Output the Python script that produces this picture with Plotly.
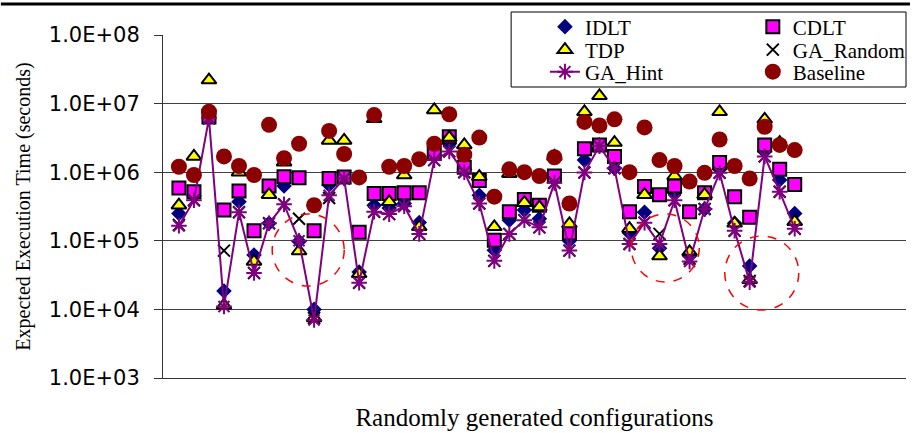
import plotly.graph_objects as go

configs = list(range(1, 43))

idlt = [2.5e5, 4.5e5, 6.3e6, 1.85e4, 3.7e5, 6.2e4, 1.8e5, 6.3e5, 9.8e4, 1.0e4,
        6.5e5, 8.3e5, 3.5e4, 3.3e5, 3.0e5, 3.5e5, 1.85e5, 1.7e6, 2.6e6, 1.1e6,
        4.6e5, 7.3e4, 2.0e5, 2.8e5, 2.1e5, 8.0e5, 1.0e5, 1.5e6, 2.5e6, 1.14e6,
        1.3e5, 2.6e5, 7.8e4, 5.0e5, 6.0e4, 2.9e5, 1.1e6, 1.8e5, 4.3e4, 2.0e6,
        7.7e5, 2.5e5]

cdlt = [5.9e5, 5.2e5, 6.4e6, 2.8e5, 5.3e5, 1.4e5, 6.3e5, 8.6e5, 8.3e5, 1.4e5,
        8.1e5, 8.5e5, 1.33e5, 4.9e5, 4.9e5, 5.0e5, 5.0e5, 1.9e6, 3.3e6, 1.18e6,
        7.6e5, 1.02e5, 2.65e5, 4.0e5, 3.3e5, 8.8e5, 1.3e5, 2.2e6, 2.5e6, 1.7e6,
        2.65e5, 6.2e5, 4.7e5, 6.3e5, 2.65e5, 5.0e5, 1.38e6, 4.4e5, 2.2e5, 2.5e6,
        1.1e6, 6.6e5]

tdp = [3.3e5, 1.7e6, 2.2e7, 1.15e4, 1.0e6, 5.0e4, 4.7e5, 1.4e6, 7.1e4, 7.5e3,
       2.9e6, 2.9e6, 3.3e4, 6.0e6, 3.7e5, 9.1e5, 1.6e5, 8.1e6, 3.2e6, 2.5e6,
       8.6e5, 1.6e5, 9.5e5, 3.6e5, 3.1e5, 1.7e6, 1.76e5, 7.6e6, 1.3e7, 2.7e6,
       1.5e5, 4.7e5, 6.0e4, 8.8e5, 6.9e4, 4.7e5, 7.6e6, 1.8e5, 2.7e4, 5.9e6,
       2.7e6, 1.9e5]

ga_random = [1.7e5, 3.9e5, 6.1e6, 7.2e4, 2.6e5, 3.4e4, 1.8e5, 3.4e5, 2.1e5, 7.5e3,
             4.2e5, 8.1e5, 2.45e4, 2.65e5, 2.45e5, 3.2e5, 1.26e5, 1.5e6, 2.0e6, 1.0e6,
             3.5e5, 5.1e4, 1.26e5, 2.0e5, 1.57e5, 7.0e5, 7.2e4, 9.9e5, 2.4e6, 1.14e6,
             9.0e4, 1.84e5, 1.26e5, 3.9e5, 5.5e4, 2.9e5, 9.8e5, 1.4e5, 2.6e4, 1.7e6,
             5.2e5, 1.5e5]

ga_hint = [1.66e5, 3.9e5, 6.1e6, 1.1e4, 2.6e5, 3.4e4, 1.8e5, 3.4e5, 1.0e5, 7.0e3,
           4.6e5, 8.1e5, 2.45e4, 2.65e5, 2.45e5, 3.2e5, 1.26e5, 1.5e6, 2.0e6, 1.0e6,
           3.5e5, 5.1e4, 1.26e5, 2.0e5, 1.57e5, 7.0e5, 7.2e4, 9.9e5, 2.4e6, 1.14e6,
           9.0e4, 1.84e5, 9.0e4, 3.9e5, 5.0e4, 2.9e5, 9.8e5, 1.4e5, 2.5e4, 1.7e6,
           5.2e5, 1.5e5]

baseline = [1.2e6, 9.1e5, 7.6e6, 1.7e6, 1.23e6, 9.1e5, 4.9e6, 1.6e6, 2.6e6, 3.3e5,
            4.0e6, 1.84e6, 8.4e5, 6.8e6, 1.2e6, 1.23e6, 1.55e6, 2.6e6, 7.0e6, 1.8e6,
            3.2e6, 4.4e5, 1.1e6, 1.0e6, 8.8e5, 1.65e6, 3.5e5, 5.4e6, 4.8e6, 5.9e6,
            1.0e6, 4.5e6, 1.5e6, 1.23e6, 7.3e5, 9.8e5, 3.0e6, 1.23e6, 8.1e5, 4.6e6,
            2.5e6, 2.1e6]

tick_vals = [1e3, 1e4, 1e5, 1e6, 1e7, 1e8]
tick_text = ["1.0E+03", "1.0E+04", "1.0E+05", "1.0E+06", "1.0E+07", "1.0E+08"]

SERIF = "Liberation Serif, Times New Roman, serif"

fig = go.Figure()
fig.add_trace(go.Scatter(x=configs, y=idlt, mode="markers", name="IDLT", legend="legend",
                         marker=dict(symbol="diamond", size=12, color="#000080")))
fig.add_trace(go.Scatter(x=configs, y=cdlt, mode="markers", name="CDLT", legend="legend2",
                         marker=dict(symbol="square", size=13, color="#FF00FF",
                                     line=dict(color="black", width=2))))
fig.add_trace(go.Scatter(x=configs, y=tdp, mode="markers", name="TDP", legend="legend3",
                         marker=dict(symbol="triangle-up", size=13, color="#FFFF00",
                                     line=dict(color="black", width=2))))
fig.add_trace(go.Scatter(x=configs, y=ga_random, mode="markers", name="GA_Random", legend="legend4",
                         marker=dict(symbol="x-thin-open", size=12, color="black",
                                     line=dict(color="black", width=2))))
fig.add_trace(go.Scatter(x=configs, y=ga_hint, mode="lines+markers", name="GA_Hint", legend="legend5",
                         line=dict(color="#800080", width=2),
                         marker=dict(symbol="asterisk-open", size=13, color="#800080",
                                     line=dict(color="#800080", width=2))))
fig.add_trace(go.Scatter(x=configs, y=baseline, mode="markers", name="Baseline", legend="legend6",
                         marker=dict(symbol="circle", size=16, color="#8B0000")))

PW = 747.0
PH = 343.0
def px(x):
    return (x - 163) / PW
def py(y):
    return (378 - y) / PH

shapes = []
# dashed red highlight circles
for cx, cy, r in [(309, 250, 36), (668, 248, 34), (765, 273, 37)]:
    shapes.append(dict(type="circle", xref="paper", yref="paper", xsizemode="pixel", ysizemode="pixel",
                       xanchor=px(cx), yanchor=py(cy), x0=-r, x1=r, y0=-r, y1=r,
                       line=dict(color="red", width=1.5, dash="dash"), layer="above"))
# legend box
shapes.append(dict(type="rect", xref="paper", yref="paper", x0=px(513), x1=px(910), y0=py(87), y1=py(12),
                   fillcolor="white", line=dict(color="black", width=1), layer="above"))
# top border line
shapes.append(dict(type="line", xref="paper", yref="paper", x0=px(0), x1=px(914), y0=py(4), y1=py(4),
                   line=dict(color="black", width=3), layer="above"))

def leg(xpix, ypix):
    return dict(x=px(xpix), y=py(ypix), xanchor="left", yanchor="middle", bgcolor="rgba(0,0,0,0)",
                borderwidth=0, font=dict(family=SERIF, size=21, color="black"))

fig.update_layout(
    width=914, height=433,
    margin=dict(l=163, r=4, t=35, b=55),
    paper_bgcolor="white", plot_bgcolor="white",
    showlegend=True,
    shapes=shapes,
    xaxis=dict(range=[-0.06, 49.41], showgrid=False, zeroline=False, showticklabels=False,
               ticks="", showline=True, linecolor="#333333", linewidth=1,
               title=dict(text="Randomly generated configurations",
                          font=dict(family=SERIF, size=25, color="black"), standoff=30)),
    yaxis=dict(type="log", range=[3, 8], tickvals=tick_vals, ticktext=tick_text,
               ticks="outside", ticklen=8, tickcolor="#333333", showline=True,
               linecolor="#333333", linewidth=1, showgrid=True, gridcolor="#404040", gridwidth=1,
               zeroline=False, ticklabelstandoff=10,
               tickfont=dict(family="DejaVu Sans", size=21, color="black"),
               title=dict(text="Expected Execution Time (seconds)",
                          font=dict(family=SERIF, size=20, color="black"), standoff=12)),
    legend=leg(547, 27),
    legend3=leg(547, 50),
    legend5=leg(547, 72),
    legend2=leg(756, 27),
    legend4=leg(756, 50),
    legend6=leg(756, 72),
)

fig.write_html("out.html")
